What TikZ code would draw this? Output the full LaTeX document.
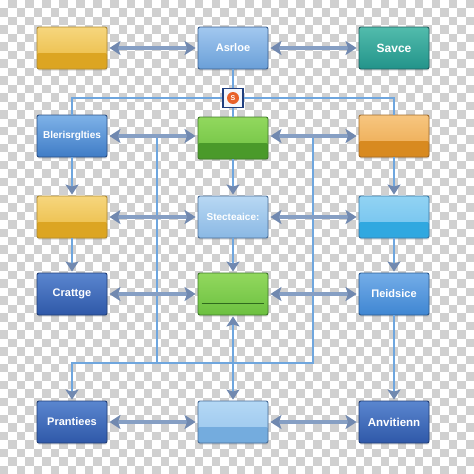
\documentclass[tikz,border=0pt]{standalone}
\usepackage{fontspec}
\setmainfont{Liberation Sans}
\usetikzlibrary{arrows.meta}
\usetikzlibrary{shadows}
\usetikzlibrary{calc}

\definecolor{chk}{HTML}{D0D0D0}
\definecolor{arrgrey}{HTML}{869FC4}
\definecolor{arrhead}{HTML}{7189B0}
\definecolor{linkblue}{HTML}{6FA6DE}
\definecolor{jblue}{HTML}{1F3F7F}
\definecolor{jorange}{HTML}{E8622A}
\definecolor{jfill}{HTML}{F4F7FC}
% box colours
\definecolor{yelD}{HTML}{B08A30}\definecolor{yelT}{HTML}{F6D67E}\definecolor{yelB}{HTML}{E9B83C}\definecolor{yelN}{HTML}{DCA522}
\definecolor{asrD}{HTML}{3A5F8F}\definecolor{asrT}{HTML}{A2C8EF}\definecolor{asrB}{HTML}{6A9FD8}
\definecolor{savD}{HTML}{1F5F60}\definecolor{savT}{HTML}{52BCAC}\definecolor{savB}{HTML}{22938A}
\definecolor{blrD}{HTML}{2A4F85}\definecolor{blrT}{HTML}{7EB2E8}\definecolor{blrB}{HTML}{3F7CC6}
\definecolor{grnD}{HTML}{3F7A2A}\definecolor{grnT}{HTML}{92D85E}\definecolor{grnB}{HTML}{6CC040}\definecolor{grnN}{HTML}{4A9A2A}
\definecolor{grnL}{HTML}{2F6A1E}
\definecolor{orgD}{HTML}{A06A2A}\definecolor{orgT}{HTML}{F7C680}\definecolor{orgB}{HTML}{EBA64A}\definecolor{orgN}{HTML}{D88A20}
\definecolor{stcD}{HTML}{4A6E98}\definecolor{stcT}{HTML}{B8D8F3}\definecolor{stcB}{HTML}{8AB8E4}
\definecolor{skyD}{HTML}{3A7AA8}\definecolor{skyT}{HTML}{92D3F3}\definecolor{skyB}{HTML}{6CC0EE}\definecolor{skyN}{HTML}{30A8E0}
\definecolor{dkD}{HTML}{203E78}\definecolor{dkT}{HTML}{5A86CF}\definecolor{dkB}{HTML}{2F58A8}
\definecolor{fldD}{HTML}{2A5A90}\definecolor{fldT}{HTML}{74ADE8}\definecolor{fldB}{HTML}{3F86D2}
\definecolor{pleD}{HTML}{4A6E98}\definecolor{pleT}{HTML}{B4D8F5}\definecolor{pleB}{HTML}{96C4EC}\definecolor{pleN}{HTML}{74ACDE}

\tikzset{
  box/.style={rounded corners=2pt, line width=0.9pt, minimum width=70pt, minimum height=42pt,
    inner sep=1pt, text=white, font=\bfseries\fontsize{11}{13}\selectfont,
    drop shadow={opacity=0.3, shadow xshift=0.4pt, shadow yshift=-1.6pt}},
  band/.style={path picture={\fill[#1] ([yshift=16pt]path picture bounding box.south west)
    rectangle (path picture bounding box.south east);}},
  dblarrow/.style={draw=arrgrey, line width=3.6pt, shorten <=2pt, shorten >=2pt,
    {Stealth[length=11pt,width=14pt,inset=2.5pt,color=arrhead]}-{Stealth[length=11pt,width=14pt,inset=2.5pt,color=arrhead]}},
  downarrow/.style={draw=linkblue, line width=1.8pt, shorten >=1pt,
    -{Stealth[length=10pt,width=13pt,inset=2pt,color=arrhead]}},
  link/.style={draw=linkblue, line width=1.8pt},
}

\begin{document}
\begin{tikzpicture}[x=1pt,y=-1pt]
  \useasboundingbox (0,0) rectangle (474,474);

  % transparent-look background
  \fill[white] (0,0) rectangle (474,474);
  \foreach \i in {0,...,55}{
    \foreach \j in {0,...,55}{
      \pgfmathtruncatemacro{\odd}{mod(\i+\j,2)}
      \ifnum\odd=1 \fill[chk] (\i*8.4643,\j*8.4643) rectangle ++(8.4643,8.4643); \fi
    }
  }

  % row 1
  \node[box, draw=yelD, top color=yelT, bottom color=yelB, band=yelN] (yelA) at (72,48) {};
  \node[box, draw=asrD, top color=asrT, bottom color=asrB] (asr) at (233,48) {Asrloe};
  \node[box, draw=savD, top color=savT, bottom color=savB, font=\bfseries\fontsize{12}{14}\selectfont] (sav) at (394,48) {Savce};

  % row 2
  \node[box, draw=blrD, top color=blrT, bottom color=blrB, font=\bfseries\fontsize{10}{12}\selectfont] (blr) at (72,136) {Blerisrglties};
  \node[box, draw=grnD, top color=grnT, bottom color=grnB, band=grnN] (grnA) at (233,138) {};
  \node[box, draw=orgD, top color=orgT, bottom color=orgB, band=orgN] (orng) at (394,136) {};

  % row 3
  \node[box, draw=yelD, top color=yelT, bottom color=yelB, band=yelN] (yelC) at (72,217) {};
  \node[box, draw=stcD, top color=stcT, bottom color=stcB, font=\bfseries\fontsize{10}{12}\selectfont] (stc) at (233,217) {Stecteaice:};
  \node[box, draw=skyD, top color=skyT, bottom color=skyB, band=skyN] (sky) at (394,217) {};

  % row 4
  \node[box, draw=dkD, top color=dkT, bottom color=dkB] (crt) at (72,294) {Crattge};
  \node[box, draw=grnD, top color=grnT, bottom color=grnB] (grnC) at (233,294) {};
  \node[box, draw=fldD, top color=fldT, bottom color=fldB] (fld) at (394,294) {Πeidsice};
  \draw[grnL, line width=1.8pt] ($(grnC.south west)+(4,-12)$) -- ($(grnC.south east)+(-4,-12)$);

  % row 5
  \node[box, draw=dkD, top color=dkT, bottom color=dkB] (prn) at (72,422) {Prantiees};
  \node[box, draw=pleD, top color=pleT, bottom color=pleB, band=pleN] (midE) at (233,422) {};
  \node[box, draw=dkD, top color=dkT, bottom color=dkB, font=\bfseries\fontsize{11.5}{14}\selectfont] (anv) at (394,422) {Anvitienn};

  % junction
  \node[draw=jblue, line width=1.3pt, fill=jfill, minimum width=20pt, minimum height=19pt, inner sep=0pt] (jn) at (233,98) {};
  \node[circle, fill=jorange, minimum size=12pt, inner sep=0pt, text=white, font=\bfseries\fontsize{7}{7}\selectfont] (coin) at (jn) {S};

  % bus lines
  \draw[link] (asr.south) -- (jn.north);
  \draw[link] (jn.south) -- (grnA.north);
  \draw[link] (jn.west) -| (blr.north);
  \draw[link] (jn.east) -| (orng.north);

  \coordinate (busLt) at (157,137);
  \coordinate (busLb) at (157,363);
  \coordinate (busRt) at (313,137);
  \coordinate (busRb) at (313,363);
  \draw[link] (busLt) -- (busLb);
  \draw[link, shorten >=1pt, -{Stealth[length=10pt,width=13pt,inset=2pt,color=arrhead]}] (busRt) -- (busRb) -| (prn.north);

  % vertical arrows
  \draw[downarrow] (blr.south) -- (yelC.north);
  \draw[downarrow] (yelC.south) -- (crt.north);
  \draw[downarrow] (grnA.south) -- (stc.north);
  \draw[downarrow] (stc.south) -- (grnC.north);
  \draw[downarrow, {Stealth[length=10pt,width=13pt,inset=2pt,color=arrhead]}-{Stealth[length=10pt,width=13pt,inset=2pt,color=arrhead]}, shorten <=1pt] (grnC.south) -- (midE.north);
  \draw[downarrow] (orng.south) -- (sky.north);
  \draw[downarrow] (sky.south) -- (fld.north);
  \draw[downarrow] (fld.south) -- (anv.north);

  % horizontal arrows
  \draw[dblarrow] (yelA) -- (asr);
  \draw[dblarrow] (asr) -- (sav);
  \draw[dblarrow] (blr.east) -- (blr.east -| grnA.west);
  \draw[dblarrow] (grnA.east |- orng.east) -- (orng.west);
  \draw[dblarrow] (yelC) -- (stc);
  \draw[dblarrow] (stc) -- (sky);
  \draw[dblarrow] (crt) -- (grnC);
  \draw[dblarrow] (grnC) -- (fld);
  \draw[dblarrow] (prn) -- (midE);
  \draw[dblarrow] (midE) -- (anv);
\end{tikzpicture}
\end{document}
